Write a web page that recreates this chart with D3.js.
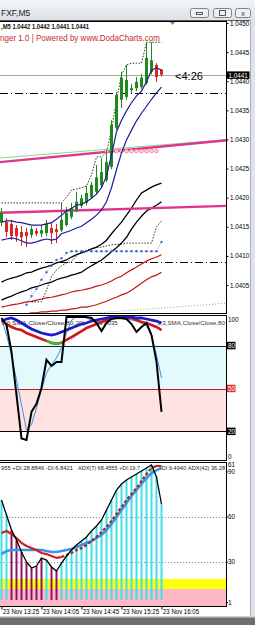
<!DOCTYPE html>
<html><head><meta charset="utf-8">
<script src="https://cdn.jsdelivr.net/npm/d3@7"></script>
<style>
html,body{margin:0;padding:0;background:#fff;overflow:hidden;}
svg{display:block;font-family:"Liberation Sans",Arial,sans-serif;}
</style></head><body>
<svg id="c" width="255" height="625"></svg>
<script>
// ---------------- DATA ----------------
const timeLabels = ["23 Nov 13:25","23 Nov 14:05","23 Nov 14:45","23 Nov 15:25","23 Nov 16:05"];
const timeTickBars = [0,8,16,24,32];
const priceTicks = [1.0405,1.0410,1.0415,1.0420,1.0425,1.0430,1.0435,1.0440,1.0445,1.0450];
const lastPrice = 1.0441;

const open  = [1.04157,1.04158,1.04155,1.04148,1.04141,1.04141,1.04136,1.04143,1.04138,1.04139,1.04148,1.04146,1.04144,1.04153,1.04167,1.04179,1.04186,1.04191,1.04201,1.04210,1.04222,1.04230,1.04253,1.04320,1.04368,1.04373,1.04385,1.04388,1.04390,1.04397,1.04416,1.04428,1.04420];
const high  = [1.04182,1.04165,1.04162,1.04153,1.04151,1.04148,1.04151,1.04148,1.04153,1.04162,1.04158,1.04155,1.04191,1.04184,1.04191,1.04210,1.04205,1.04220,1.04227,1.04256,1.04268,1.04282,1.04333,1.04381,1.04416,1.04428,1.04395,1.04407,1.04412,1.04467,1.04467,1.04431,1.04420];
const low   = [1.04151,1.04132,1.04127,1.04124,1.04117,1.04115,1.04131,1.04134,1.04132,1.04134,1.04120,1.04122,1.04141,1.04150,1.04163,1.04175,1.04182,1.04187,1.04198,1.04206,1.04218,1.04227,1.04249,1.04316,1.04354,1.04368,1.04380,1.04383,1.04387,1.04394,1.04412,1.04399,1.04408];
const close = [1.04174,1.04141,1.04134,1.04134,1.04132,1.04134,1.04146,1.04138,1.04144,1.04155,1.04139,1.04141,1.04162,1.04174,1.04182,1.04193,1.04199,1.04208,1.04222,1.04235,1.04244,1.04261,1.04325,1.04376,1.04406,1.04402,1.04388,1.04399,1.04406,1.04440,1.04436,1.04407,1.04411];

const bandUp = [1.04158,1.04160,1.04160,1.04158,1.04157,1.04155,1.04153,1.04153,1.04153,1.04155,1.04157,1.04163,1.04170,1.04177,1.04182,1.04187,1.04189,1.04193,1.04199,1.04206,1.04217,1.04237,1.04273,1.04313,1.04333,1.04349,1.04363,1.04375,1.04383,1.04399,1.04419,1.04423,1.04419];
const bandDn = [1.04127,1.04129,1.04131,1.04129,1.04126,1.04122,1.04122,1.04124,1.04127,1.04129,1.04127,1.04129,1.04138,1.04141,1.04144,1.04148,1.04151,1.04157,1.04163,1.04170,1.04179,1.04193,1.04217,1.04248,1.04277,1.04299,1.04316,1.04332,1.04345,1.04357,1.04369,1.04380,1.04390];
const maBlack1 = [1.04055,1.04059,1.04062,1.04064,1.04067,1.04071,1.04072,1.04076,1.04079,1.04081,1.04084,1.04088,1.04090,1.04093,1.04098,1.04102,1.04105,1.04108,1.04112,1.04115,1.04120,1.04127,1.04138,1.04148,1.04158,1.04170,1.04182,1.04196,1.04208,1.04213,1.04218,1.04222,1.04225];
const maBlack2 = [1.04024,1.04028,1.04031,1.04035,1.04038,1.04041,1.04045,1.04047,1.04050,1.04053,1.04055,1.04059,1.04062,1.04064,1.04067,1.04069,1.04072,1.04078,1.04083,1.04088,1.04093,1.04100,1.04107,1.04114,1.04122,1.04132,1.04146,1.04158,1.04168,1.04177,1.04182,1.04187,1.04193];
const maRed1 = [1.04012,1.04014,1.04016,1.04017,1.04019,1.04021,1.04022,1.04024,1.04026,1.04028,1.04029,1.04031,1.04033,1.04035,1.04038,1.04040,1.04041,1.04043,1.04045,1.04048,1.04050,1.04053,1.04057,1.04062,1.04065,1.04071,1.04076,1.04081,1.04086,1.04091,1.04095,1.04098,1.04102];
const maRed2 = [1.03993,1.03995,1.03997,1.03998,1.03998,1.04000,1.04002,1.04002,1.04004,1.04004,1.04005,1.04005,1.04007,1.04007,1.04009,1.04010,1.04012,1.04012,1.04014,1.04016,1.04019,1.04022,1.04026,1.04029,1.04033,1.04036,1.04041,1.04047,1.04053,1.04059,1.04064,1.04067,1.04072];
const blueDots = [null,null,null,null,null,1.04016,1.04031,1.04043,1.04059,1.04072,1.04083,1.04093,1.04096,1.04105,1.04108,1.04108,1.04108,1.04108,1.04108,1.04108,1.04108,1.04108,1.04108,1.04108,1.04108,1.04108,1.04108,1.04108,1.04108,1.04108,1.04108,1.04108,1.04124];
const stepHigh = [1.04191,1.04191,1.04191,1.04191,1.04191,1.04191,1.04191,1.04191,1.04191,1.04191,1.04191,1.04191,1.04191,1.04201,1.04213,1.04215,1.04217,1.04220,1.04239,1.04270,1.04270,1.04278,1.04316,1.04368,1.04411,1.04428,1.04431,1.04431,1.04431,1.04467,1.04467,1.04467,1.04467];
const stepLow = [null,null,null,null,null,null,1.04021,1.04021,1.04021,1.04041,1.04065,1.04076,1.04083,1.04088,1.04090,1.04100,1.04107,1.04110,1.04112,1.04114,1.04115,1.04117,1.04119,1.04120,1.04120,1.04122,1.04122,1.04122,1.04122,1.04122,1.04122,1.04150,1.04160];
const circleBars = [21,22,23,24,25,26,27,28,29,30,31];
const circlePrice = 1.04280;
const trendPink1 = [[-0.4,1.04261],[45.4,1.04299]];
const trendGreen1 = [[-0.4,1.04268],[45.4,1.04300]];
const trendPink2 = [[-0.4,1.04174],[45.4,1.04186]];
const trendGreenDot = [[15.8,1.04000],[45.4,1.04019]];
const dashDotLevels = [1.04380,1.04090];

const stochMain = [99.3,94.4,75.6,45.6,15,14,33.7,39.3,50.5,70.0,65.8,68.6,68.6,100,100,100,100,100,99.3,95.8,90.2,95.8,98.6,99.3,99.3,98.6,95.1,89.5,93.0,95.8,87.4,68.6,33.7];
const stochSignal = [99.3,87.4,73.5,56.0,38.6,21.0,24.6,36.5,49.1,60.9,66.5,71.4,78.4,88.8,97.9,100,100,99.3,97.9,97.9,98.6,99.3,99.3,99.3,99.3,98.6,97.9,97.2,95.8,93.7,87.4,73.5,57.4];
const stochRed = [97.2,95.1,93.0,91.6,90.9,88.8,87.4,86.0,84.6,83.3,81.9,81.2,81.9,84.0,86.0,88.1,90.2,92.3,93.7,95.1,96.5,97.9,99.3,99.3,99.3,99.3,99.3,97.9,96.5,95.8,94.4,93.0,90.9];
const stochGreenBars = [9,10,11,12];
const stochBlue = [97.2,98.6,99.3,97.9,95.8,93.7,91.6,90.2,88.8,88.1,87.4,88.1,89.5,90.9,92.3,93.7,95.1,95.8,97.2,97.9,98.6,99.3,100,100,100,100,100,99.3,99.3,98.6,97.9,97.2,95.8];
const stochFaint = [null,null,null,null,null,null,null,null,null,null,null,null,78.4,81.2,84.0,86.8,89.5,91.6,93.7,95.1,96.5,97.9,98.6,99.3,99.3,null,null,null,null,null,null,null,null];
const stochLevels = [80,50,20];

const adxMain = [71.3,61.3,51.3,44.7,36.7,30.0,26.0,27.3,32.7,31.3,26.7,24.0,29.3,34.0,38.0,41.3,44.0,46.7,50.7,54.0,58.0,64.7,71.3,78.0,82.0,84.7,86.7,88.7,90.7,92.7,94.7,86.7,68.5];
const histDown = [0,0,1,1,1,1,1,1,1,0,1,1,0,0,0,0,0,0,0,0,0,0,0,0,0,0,0,0,0,0,0,0,0];
const histBase = 4.7;
const adxPlus = [49.3,50.7,48.7,46.0,42.7,40.7,39.3,38.0,36.0,35.3,34.0,32.7,33.3,34.7,36.0,38.0,39.3,41.3,44.0,46.7,50.0,53.3,57.3,62.0,66.7,71.3,75.3,79.3,84.0,88.7,92.7,94.0,94.0];
const adxSlow = [35.3,37.3,38.0,38.0,38.0,38.0,38.0,38.0,38.0,37.3,36.7,36.7,37.3,38.0,38.7,40.0,41.3,42.7,44.0,46.0,48.0,51.3,55.3,60.0,64.7,69.3,74.0,78.0,82.0,86.0,89.3,91.3,92.7];
const adxLevels = [60,30];
const adxZoneYellow = [12,18.7];
const adxZonePink = [0,12];
const adxAxisLabels = [90,60,30,1];

// ---------------- LAYOUT ----------------
const svg = d3.select("#c");
const R = 226.5;
const P = {top:21.5, bot:313.5}, S = {top:315.5, bot:460.5}, A = {top:462.5, bot:606.5};
const N = open.length;
const x = d3.scaleLinear().domain([0, N-1]).range([1.5, 161.5]);
const yP = d3.scaleLinear().domain([1.0405,1.0450]).range([285,23]);
const yS = d3.scaleLinear().domain([0,100]).range([460,317]);
const yA = d3.scaleLinear().domain([30,60]).range([562,517]);
const idx = d3.range(N);

// frame
svg.append("rect").attr("width",255).attr("height",625).attr("fill","#dfe4ea");
const grad = svg.append("defs").append("linearGradient").attr("id","tb").attr("x1",0).attr("y1",0).attr("x2",0).attr("y2",1);
grad.append("stop").attr("offset",0).attr("stop-color","#f3f5f8");
grad.append("stop").attr("offset",1).attr("stop-color","#dde2e9");
svg.append("rect").attr("width",255).attr("height",19).attr("fill","url(#tb)");
svg.append("rect").attr("x",0).attr("y",20).attr("width",250).attr("height",597).attr("fill","#fff");
svg.append("line").attr("x1",0).attr("x2",250).attr("y1",20.5).attr("y2",20.5).attr("stroke","#5a5a5a");
svg.append("line").attr("x1",250.5).attr("x2",250.5).attr("y1",20).attr("y2",617).attr("stroke","#a8b0b8");
svg.append("rect").attr("x",0).attr("y",617).attr("width",255).attr("height",8).attr("fill","#6e6e6e");
svg.append("rect").attr("x",0).attr("y",616).attr("width",255).attr("height",1.5).attr("fill","#d0d5db");
svg.append("text").attr("x",1).attr("y",16).attr("font-size","8.5px").attr("fill","#1a1a1a").text("FXF,M5");
// window buttons
[[190.5,18],[213.5,18],[235.5,15]].forEach((b,k)=>{
  svg.append("rect").attr("x",b[0]).attr("y",8.5).attr("width",b[1]).attr("height",9).attr("rx",2)
    .attr("fill","#eef0f3").attr("stroke","#7d858f");
});
svg.append("rect").attr("x",196.5).attr("y",12.5).attr("width",6).attr("height",2).attr("fill","none").attr("stroke","#333").attr("stroke-width",0.8);
svg.append("rect").attr("x",219.5).attr("y",10.5).attr("width",6).attr("height",5).attr("fill","none").attr("stroke","#333").attr("stroke-width",0.8);
svg.append("text").attr("x",243).attr("y",16).attr("text-anchor","middle").attr("font-size","7px").attr("fill","#333").text("x");

// clip paths
const defs = svg.select("defs");
[["cp",P],["cs",S],["ca",A]].forEach(([id,p])=>{
  defs.append("clipPath").attr("id",id).append("rect").attr("x",0).attr("y",p.top).attr("width",R).attr("height",p.bot-p.top);
});

// ---------------- PRICE PANEL ----------------
const gp = svg.append("g").attr("clip-path","url(#cp)");
const lineP = d3.line().defined(d=>d!=null).x((d,i)=>x(i)).y(d=>yP(d));
const segP = d3.line().x(d=>x(d[0])).y(d=>yP(d[1]));

dashDotLevels.forEach(v=>gp.append("line").attr("x1",0).attr("x2",R).attr("y1",Math.round(yP(v))+0.5).attr("y2",Math.round(yP(v))+0.5)
  .attr("stroke","#000").attr("stroke-dasharray","8,3,1,3"));
gp.append("line").attr("x1",0).attr("x2",R).attr("y1",Math.round(yP(lastPrice))+0.5).attr("y2",Math.round(yP(lastPrice))+0.5).attr("stroke","#a8a8a8");

gp.append("path").attr("d",segP(trendGreenDot)).attr("stroke","#62c862").attr("fill","none").attr("stroke-dasharray","1,2");
gp.append("path").attr("d",lineP(maRed2)).attr("stroke","#c41616").attr("stroke-width",1.2).attr("fill","none");
gp.append("path").attr("d",lineP(maRed1)).attr("stroke","#c41616").attr("stroke-width",1.2).attr("fill","none");
gp.append("path").attr("d",lineP(maBlack2)).attr("stroke","#000").attr("stroke-width",1.3).attr("fill","none");
gp.append("path").attr("d",lineP(maBlack1)).attr("stroke","#000").attr("stroke-width",1.3).attr("fill","none");
gp.append("path").attr("d",lineP(stepLow)).attr("stroke","#000").attr("stroke-width",0.8).attr("stroke-dasharray","1.5,1.5").attr("fill","none");
gp.append("path").attr("d",lineP(stepHigh)).attr("stroke","#000").attr("stroke-width",0.8).attr("stroke-dasharray","1.5,1.5").attr("fill","none");
gp.append("path").attr("d",lineP(blueDots)).attr("stroke","#4a6cc8").attr("stroke-width",0.8).attr("stroke-dasharray","1,1.5").attr("fill","none");
gp.selectAll("circle.bd").data(idx.filter(i=>blueDots[i]!=null)).enter().append("circle")
  .attr("cx",i=>x(i)).attr("cy",i=>yP(blueDots[i])).attr("r",1.2).attr("fill","#4a6cc8");
gp.append("path").attr("d",segP(trendGreen1)).attr("stroke","#7ede7e").attr("stroke-width",1).attr("fill","none");
gp.append("path").attr("d",segP(trendPink1)).attr("stroke","#e0338c").attr("stroke-width",2.4).attr("fill","none");
gp.append("path").attr("d",segP(trendPink2)).attr("stroke","#e0338c").attr("stroke-width",2.4).attr("fill","none");
gp.selectAll("circle.pk").data(circleBars).enter().append("circle")
  .attr("cx",i=>x(i)).attr("cy",yP(circlePrice)).attr("r",1.8).attr("fill","#ffd6e4").attr("stroke","#f0708c").attr("stroke-width",0.8);

idx.forEach(i=>{
  const up = close[i]>=open[i];
  const col = up ? "#1e8a1e" : "#e02424";
  gp.append("line").attr("x1",x(i)).attr("x2",x(i)).attr("y1",yP(high[i])).attr("y2",yP(low[i])).attr("stroke",col);
  const y0 = yP(Math.max(open[i],close[i])), y1 = yP(Math.min(open[i],close[i]));
  gp.append("rect").attr("x",x(i)-1.5).attr("y",y0).attr("width",3).attr("height",Math.max(1,y1-y0)).attr("fill",col);
});
gp.append("path").attr("d",lineP(bandDn)).attr("stroke","#1c1c9c").attr("stroke-width",1.2).attr("fill","none");
gp.append("path").attr("d",lineP(bandUp)).attr("stroke","#1c1c9c").attr("stroke-width",1.2).attr("fill","none");

svg.append("text").attr("x",1).attr("y",29).attr("font-size","6.5px").attr("font-weight","bold").attr("fill","#111")
  .attr("textLength",88).attr("lengthAdjust","spacingAndGlyphs").text(",M5 1.0442 1.0442 1.0441 1.0441");
svg.append("text").attr("x",0).attr("y",41).attr("font-size","8.5px").attr("fill","#c62a2a")
  .attr("textLength",160).attr("lengthAdjust","spacingAndGlyphs").text("nger 1.0 | Powered by www.DodaCharts.com");
svg.append("text").attr("x",175).attr("y",80).attr("font-size","10px").attr("fill","#000")
  .attr("textLength",28).attr("lengthAdjust","spacingAndGlyphs").text("<4:26");
svg.append("path").attr("d","M170,22 L175,22 L172.5,25 Z").attr("fill","#7a8088");

const ax = svg.append("g").attr("transform",`translate(${R},0)`)
  .call(d3.axisRight(yP).tickValues(priceTicks).tickSize(2).tickPadding(1.5).tickFormat(d3.format(".4f")));
ax.select(".domain").remove();
ax.selectAll("text").attr("font-size","6.3px").attr("font-family","Liberation Sans, Arial").attr("fill","#000");
ax.selectAll("line").attr("stroke","#000");
svg.append("rect").attr("x",R).attr("y",yP(lastPrice)-4).attr("width",23).attr("height",7.5).attr("fill","#000");
svg.append("text").attr("x",R+2).attr("y",yP(lastPrice)).attr("dy","0.35em").attr("font-size","6.3px").attr("fill","#fff").text(d3.format(".4f")(lastPrice));

// ---------------- STOCH PANEL ----------------
const gs = svg.append("g").attr("clip-path","url(#cs)");
gs.append("rect").attr("x",0).attr("width",R).attr("y",yS(80)).attr("height",yS(50)-yS(80)).attr("fill","#e2fafc");
gs.append("rect").attr("x",0).attr("width",R).attr("y",yS(50)).attr("height",yS(20)-yS(50)).attr("fill","#ffe3e3");
const lvlCol = {80:"#222",50:"#b42222",20:"#000"};
stochLevels.forEach(v=>gs.append("line").attr("x1",0).attr("x2",R).attr("y1",Math.round(yS(v))+0.5).attr("y2",Math.round(yS(v))+0.5).attr("stroke",lvlCol[v]));
const lineS = d3.line().defined(d=>d!=null).x((d,i)=>x(i)).y(d=>yS(d));
gs.append("text").attr("x",1).attr("y",325).attr("font-size","6px").attr("fill","#333")
  .attr("textLength",84).attr("lengthAdjust","spacingAndGlyphs").text("1,0,SMA,Close/Close,80,20)");
gs.append("text").attr("x",96).attr("y",325).attr("font-size","6px").attr("fill","#333").text("99.0035");
gs.append("text").attr("x",157).attr("y",325).attr("font-size","6px").attr("fill","#333")
  .attr("textLength",68).attr("lengthAdjust","spacingAndGlyphs").text("3,3,SMA,Close/Close,80");
gs.append("path").attr("d",lineS(stochFaint)).attr("stroke","#8cb2d6").attr("stroke-width",0.8).attr("stroke-dasharray","2,2").attr("fill","none");
gs.append("path").attr("d",lineS(stochSignal)).attr("stroke","#3d8fdc").attr("stroke-width",1).attr("fill","none");
gs.append("path").attr("d",lineS(stochRed)).attr("stroke","#d01818").attr("stroke-width",2.6).attr("fill","none");
gs.append("path").attr("d",lineS(stochRed.map((v,i)=>stochGreenBars.includes(i)?v:null))).attr("stroke","#22cc22").attr("stroke-width",2.2).attr("fill","none");
gs.append("path").attr("d",lineS(stochBlue)).attr("stroke","#1c1cc8").attr("stroke-width",2.8).attr("fill","none");
gs.append("path").attr("d",lineS(stochMain)).attr("stroke","#000").attr("stroke-width",2).attr("fill","none");
[[100,null],[80,"#000"],[50,"#e03434"],[20,"#000"],[0,null]].forEach(([v,bg])=>{
  const yy = Math.max(S.top+4, Math.min(S.bot-3.5, yS(v)));
  if(bg){ svg.append("rect").attr("x",R).attr("y",yy-3.8).attr("width",9).attr("height",7.5).attr("fill",bg); }
  svg.append("text").attr("x",R+1.5).attr("y",yy).attr("dy","0.35em").attr("font-size","6.3px").attr("fill",bg?"#fff":"#000").text(v);
});

// ---------------- ADX PANEL ----------------
const ga = svg.append("g").attr("clip-path","url(#ca)");
ga.append("rect").attr("x",0).attr("width",R).attr("y",yA(adxZoneYellow[1])).attr("height",yA(adxZoneYellow[0])-yA(adxZoneYellow[1])).attr("fill","#ffff10");
ga.append("rect").attr("x",0).attr("width",R).attr("y",yA(adxZonePink[1])).attr("height",yA(adxZonePink[0])-yA(adxZonePink[1])).attr("fill","#ffb8c6");
adxLevels.forEach(v=>ga.append("line").attr("x1",0).attr("x2",R).attr("y1",Math.round(yA(v))+0.5).attr("y2",Math.round(yA(v))+0.5)
  .attr("stroke","#8a8a8a").attr("stroke-dasharray","1.2,1.8"));
ga.selectAll("rect.h").data(idx).enter().append("rect")
  .attr("x",i=>x(i)-1).attr("width",2)
  .attr("y",i=>yA(adxMain[i])).attr("height",i=>yA(histBase)-yA(adxMain[i]))
  .attr("fill",i=>histDown[i]?"#8a1466":"#3fe0e6");
const lineA = d3.line().defined(d=>d!=null).x((d,i)=>x(i)).y(d=>yA(d));
ga.append("path").attr("d",lineA(adxSlow)).attr("stroke","#3a94ea").attr("stroke-width",2.6).attr("fill","none");
ga.append("path").attr("d",lineA(adxPlus.map((v,i)=>i>=12?v:null))).attr("stroke","#b02424").attr("stroke-width",2.2).attr("stroke-dasharray","3,2").attr("fill","none");
ga.append("path").attr("d",lineA(adxPlus.map((v,i)=>(i<=12||i>=30)?v:null))).attr("stroke","#d41a1a").attr("stroke-width",2.2).attr("fill","none");
ga.append("path").attr("d",lineA(adxMain)).attr("stroke","#000").attr("stroke-width",1.3).attr("fill","none");
const adxTxt = [[1,"955 +DI:28.8846 -DI:6.8421",72],[78,"ADX(7) 68.4555 +DI:19.7",62],[160,"-DI:9.4940",26],[188,"ADX(42) 36.28",37]];
adxTxt.forEach(([tx,t,l])=>ga.append("text").attr("x",tx).attr("y",470).attr("font-size","6px").attr("fill","#222")
  .attr("textLength",l).attr("lengthAdjust","spacingAndGlyphs").text(t));
svg.append("text").attr("x",R+1.5).attr("y",465).attr("dy","0.35em").attr("font-size","6.3px").attr("fill","#000").text("61");
adxAxisLabels.forEach(v=>{
  const yy = Math.min(A.bot-4, yA(v));
  svg.append("text").attr("x",R+1.5).attr("y",yy).attr("dy","0.35em").attr("font-size","6.3px").attr("fill","#000").text(v);
  svg.append("line").attr("x1",R).attr("x2",R+1.5).attr("y1",yy).attr("y2",yy).attr("stroke","#000");
});

[P,S,A].forEach(p=>{
  svg.append("rect").attr("x",-1).attr("y",p.top).attr("width",R+1).attr("height",p.bot-p.top).attr("fill","none").attr("stroke","#000");
});

// time axis
const tx = svg.append("g").attr("transform",`translate(0,${A.bot})`)
  .call(d3.axisBottom(x).tickValues(timeTickBars).tickSize(3).tickPadding(0).tickFormat((d,i)=>timeLabels[i]));
tx.select(".domain").remove();
tx.selectAll("line").attr("stroke","#000");
tx.selectAll("text").attr("text-anchor","start").attr("dx","1").attr("font-size","6.3px").attr("font-family","Liberation Sans, Arial").attr("fill","#000")
  .attr("textLength",36).attr("lengthAdjust","spacingAndGlyphs");
</script>
</body></html>
